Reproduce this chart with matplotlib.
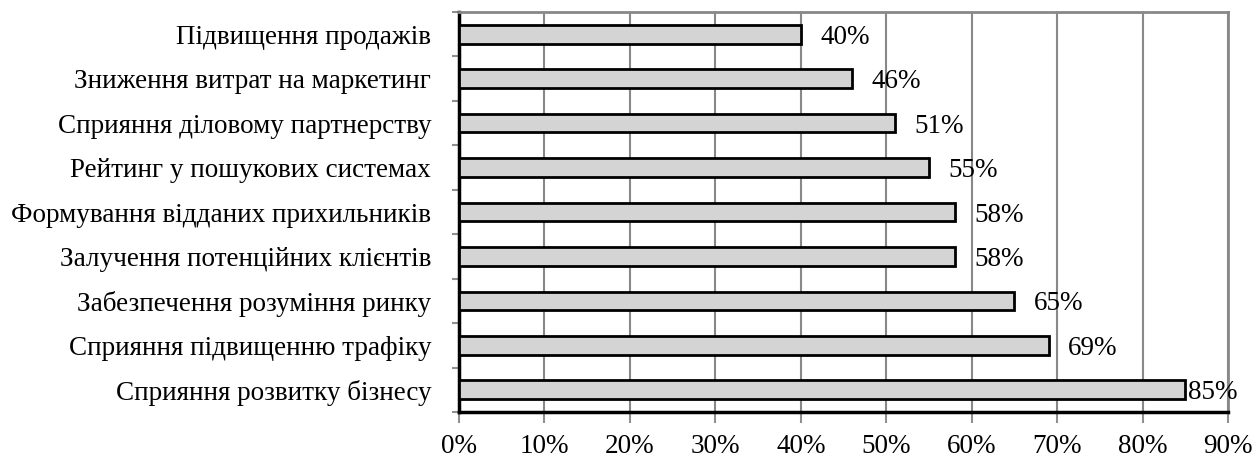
import matplotlib
matplotlib.use("Agg")
import matplotlib.pyplot as plt
import numpy as np

categories = [
    "Підвищення продажів",
    "Зниження витрат на маркетинг",
    "Сприяння діловому партнерству",
    "Рейтинг у пошукових системах",
    "Формування відданих прихильників",
    "Залучення потенційних клієнтів",
    "Забезпечення розуміння ринку",
    "Сприяння підвищенню трафіку",
    "Сприяння розвитку бізнесу",
]
values = [40, 46, 51, 55, 58, 58, 65, 69, 85]
xticks = [0, 10, 20, 30, 40, 50, 60, 70, 80, 90]

plt.rcParams['font.family'] = ['Liberation Serif', 'DejaVu Serif']

fig = plt.figure(figsize=(12.53, 4.57), dpi=100)
ax = fig.add_axes([459/1253, 1 - 412/457, (1228-459)/1253, (412-12)/457])

n = len(categories)
y = np.arange(n)
ax.barh(y, values, height=0.42, color='#d4d4d4', edgecolor='black', linewidth=2, zorder=3)
xmax = 90
for yi, v in zip(y, values):
    xpos = v + 2.3 if v + 2.3 < xmax - 5 else v + 0.3
    ax.text(xpos, yi, f"{v}%", va='center_baseline', ha='left', fontsize=19.5)

ax.set_xlim(0, xmax)
ax.set_ylim(n - 0.5, -0.5)
ax.set_xticks(xticks)
ax.set_xticklabels([f"{t}%" for t in xticks], fontsize=19.5)
ax.set_yticks(np.arange(n + 1) - 0.5)
ax.set_yticklabels([])
ax.set_yticks(y, minor=True)
ax.set_yticklabels(categories, minor=True, fontsize=19.5)
ax.tick_params(axis='y', which='minor', length=0, pad=20)
ax.tick_params(axis='y', which='major', length=5, color='#909090', width=1.5)
ax.tick_params(axis='x', length=8, color='#909090', width=1.5, pad=8)
ax.grid(axis='x', color='#888888', linewidth=1.5, zorder=0)
ax.set_axisbelow(True)
ax.spines['left'].set_color('black')
ax.spines['left'].set_linewidth(2.5)
ax.spines['bottom'].set_color('black')
ax.spines['bottom'].set_linewidth(2.5)
ax.spines['top'].set_color('#888888')
ax.spines['top'].set_linewidth(2)
ax.spines['right'].set_color('#888888')
ax.spines['right'].set_linewidth(2)

fig.savefig("out.png", dpi=100)
